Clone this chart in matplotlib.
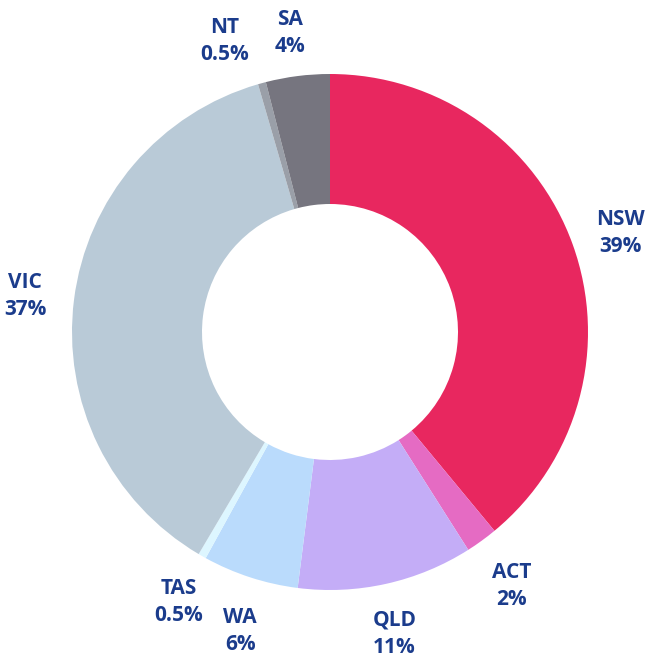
import matplotlib.pyplot as plt
import numpy as np

# regions and share of total (%)
regions = ['NSW', 'ACT', 'QLD', 'WA', 'TAS', 'VIC', 'NT', 'SA']
shares = [39, 2, 11, 6, 0.5, 37, 0.5, 4]
share_labels = ['39%', '2%', '11%', '6%', '0.5%', '37%', '0.5%', '4%']
colors = ['#E8275F', '#E56BC3', '#C4ADF7', '#BADBFC', '#DDF6FF', '#B9CAD7', '#9A9FA8', '#76757F']

# label distance (fraction of radius) and angle nudge (deg) per region
label_dist = [1.19, 1.21, 1.195, 1.21, 1.20, 1.19, 1.20, 1.17]
label_nudge = [-1, -0.5, -0.5, 1.3, 0.5, 0.5, 4.6, 0.5]

W, H = 647, 659
cx, cy = 330, H - 332
R = 258

fig = plt.figure(figsize=(W / 100, H / 100), dpi=100)
ax = fig.add_axes([0, 0, 1, 1])
ax.set_xlim(0, W)
ax.set_ylim(0, H)
ax.set_aspect('equal')
ax.axis('off')

wedges, _ = ax.pie(shares, colors=colors, startangle=90, counterclock=False,
                   center=(cx, cy), radius=R,
                   wedgeprops=dict(width=130, linewidth=0))

for w, name, pct, d, nudge in zip(wedges, regions, share_labels, label_dist, label_nudge):
    ang = np.deg2rad((w.theta1 + w.theta2) / 2 + nudge)
    x = cx + R * d * np.cos(ang)
    y = cy + R * d * np.sin(ang)
    ax.text(x, y, f'{name}\n{pct}', ha='center', va='center',
            fontsize=15, fontweight='bold', family=['Open Sans', 'DejaVu Sans'],
            color='#1B3C8C', linespacing=1.4)

ax.set_xlim(0, W)
ax.set_ylim(0, H)
fig.savefig('out.png', dpi=100)
